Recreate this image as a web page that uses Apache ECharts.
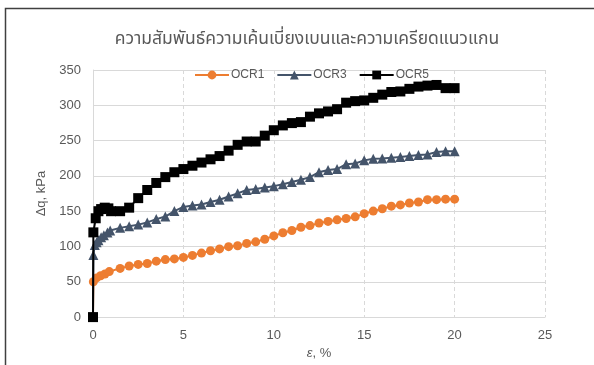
<!DOCTYPE html>
<html>
<head>
<meta charset="utf-8">
<script src="https://cdn.jsdelivr.net/npm/echarts@6/dist/echarts.min.js"></script>
<style>
  html, body { margin: 0; padding: 0; background: #ffffff; }
  #chart { width: 594px; height: 365px; }
</style>
</head>
<body>
<div id="chart"></div>
<script>
// Axial strain (%) and deviator stress (kPa) for each OCR test
const ocr1Strain = [0, 0.02, 0.2, 0.42, 0.66, 0.9, 1.5, 2, 2.5, 3, 3.5, 4, 4.5, 5, 5.5, 6, 6.5, 7, 7.5, 8, 8.5, 9, 9.5, 10, 10.5, 11, 11.5, 12, 12.5, 13, 13.5, 14, 14.5, 15, 15.5, 16, 16.5, 17, 17.5, 18, 18.5, 19, 19.5, 20];
const ocr1Dq = [0, 50, 55.5, 58.5, 61, 64.5, 69, 72.3, 74.6, 76, 79.2, 81.5, 82.4, 84.5, 87.4, 90.7, 93.9, 96.6, 99.8, 101.1, 104.4, 106.6, 110.3, 115, 119.5, 122.7, 127.3, 129.6, 133.3, 135.5, 137.8, 139.6, 142, 146.5, 150.2, 153.4, 157.1, 158.9, 161.6, 163, 166.3, 166.3, 167.1, 167.1];

const ocr3Strain = [0, 0.02, 0.1, 0.2, 0.3, 0.45, 0.6, 0.8, 0.95, 1.5, 2, 2.5, 3, 3.5, 4, 4.5, 5, 5.5, 6, 6.5, 7, 7.5, 8, 8.5, 9, 9.5, 10, 10.5, 11, 11.5, 12, 12.5, 13, 13.5, 14, 14.5, 15, 15.5, 16, 16.5, 17, 17.5, 18, 18.5, 19, 19.5, 20];
const ocr3Dq = [0, 88, 102, 106, 109, 113, 116, 120, 122.7, 126.4, 128.6, 131, 134.1, 138.8, 142.4, 150.2, 156, 158, 159.4, 163, 166.3, 170.8, 175.3, 180, 181.4, 183.5, 185.5, 188.3, 191.4, 194.6, 198.3, 205.2, 208.3, 209.7, 216.6, 217.5, 222, 224.4, 224.8, 225.8, 226.7, 228.1, 229.5, 230.3, 234, 235, 235];

const ocr5Strain = [0, 0.02, 0.15, 0.3, 0.45, 0.65, 0.85, 1.0, 1.5, 2, 2.5, 3, 3.5, 4, 4.5, 5, 5.5, 6, 6.5, 7, 7.5, 8, 8.5, 9, 9.5, 10, 10.5, 11, 11.5, 12, 12.5, 13, 13.5, 14, 14.5, 15, 15.5, 16, 16.5, 17, 17.5, 18, 18.5, 19, 19.5, 20];
const ocr5Dq = [0, 120, 140, 150, 153, 155, 154, 150, 150, 155, 168.5, 180, 190, 198.3, 205.2, 209.7, 214.4, 218.9, 223.5, 228.1, 235.8, 244, 248.7, 248.7, 257, 264.7, 271.5, 274.8, 276.2, 283.9, 288.6, 291.3, 294.5, 303.7, 305.9, 306.9, 310.6, 315.1, 318.8, 319.6, 323.3, 326.5, 327.9, 328.8, 324.3, 324.3];

const seriesNames = ['OCR1', 'OCR3', 'OCR5'];
const xTicks = [0, 5, 10, 15, 20, 25];
const yTicks = [0, 50, 100, 150, 200, 250, 300, 350];
const chartTitle = 'ความสัมพันธ์ความเค้นเบี่ยงเบนและความเครียดแนวแกน';

const pairs = (xs, ys) => xs.map((x, i) => [x, ys[i]]);

const textColor = '#595959';
const gridColor = '#d9d9d9';
const baseFont = '"Liberation Sans", Arial, sans-serif';

const chart = echarts.init(document.getElementById('chart'), null, { renderer: 'canvas' });

chart.setOption({
  backgroundColor: '#ffffff',
  animation: false,
  title: {
    text: chartTitle,
    left: 302,
    top: 26,
    textAlign: 'center',
    textStyle: {
      color: textColor,
      fontSize: 17.5,
      fontWeight: 'normal',
      fontFamily: '"Noto Sans Thai", Tahoma, "DejaVu Sans", sans-serif'
    }
  },
  legend: {
    top: 64,
    left: 189,
    itemWidth: 34,
    itemHeight: 11,
    itemGap: 12,
    textStyle: { color: textColor, fontSize: 12, fontFamily: baseFont, padding: [0, 0, 0, -3] },
    data: seriesNames
  },
  graphic: [{
    type: 'rect',
    silent: true,
    shape: { x: 5.5, y: 8.5, width: 700, height: 500 },
    style: { fill: 'none', stroke: '#404040', lineWidth: 1.5 },
    z: 100
  }],
  grid: { left: 93, right: 49, top: 70, bottom: 41, containLabel: false },
  xAxis: {
    type: 'value',
    min: xTicks[0],
    max: xTicks[xTicks.length - 1],
    interval: xTicks[1] - xTicks[0],
    name: '{e|ε}, %',
    nameLocation: 'middle',
    nameGap: 24,
    nameTextStyle: {
      color: textColor, fontSize: 13, fontFamily: baseFont,
      rich: { e: { fontStyle: 'italic', fontSize: 13, color: textColor, fontFamily: baseFont } }
    },
    axisLine: { show: true, lineStyle: { color: gridColor, width: 1 } },
    axisTick: { show: false },
    axisLabel: { color: textColor, fontSize: 13, fontFamily: baseFont, margin: 12 },
    splitLine: { show: true, lineStyle: { color: gridColor, type: [4, 3], width: 1 } }
  },
  yAxis: {
    type: 'value',
    min: yTicks[0],
    max: yTicks[yTicks.length - 1],
    interval: yTicks[1] - yTicks[0],
    name: 'Δq, kPa',
    nameLocation: 'middle',
    nameGap: 43,
    nameRotate: 90,
    nameTextStyle: { color: textColor, fontSize: 13, fontFamily: baseFont },
    axisLine: { show: true, lineStyle: { color: gridColor, width: 1 } },
    axisTick: { show: false },
    axisLabel: { color: textColor, fontSize: 13, fontFamily: baseFont, margin: 12 },
    splitLine: { show: true, lineStyle: { color: gridColor, width: 1 } }
  },
  series: [
    {
      name: seriesNames[0],
      type: 'line',
      data: pairs(ocr1Strain, ocr1Dq),
      symbol: 'circle',
      symbolSize: 9,
      itemStyle: { color: '#ED7D31' },
      lineStyle: { color: '#ED7D31', width: 2 },
      z: 2
    },
    {
      name: seriesNames[1],
      type: 'line',
      data: pairs(ocr3Strain, ocr3Dq),
      symbol: 'triangle',
      symbolSize: 10,
      itemStyle: { color: '#44546A' },
      lineStyle: { color: '#44546A', width: 2 },
      z: 3
    },
    {
      name: seriesNames[2],
      type: 'line',
      data: pairs(ocr5Strain, ocr5Dq),
      symbol: 'rect',
      symbolSize: 10,
      itemStyle: { color: '#000000' },
      lineStyle: { color: '#000000', width: 2 },
      z: 4
    }
  ]
});
</script>
</body>
</html>
